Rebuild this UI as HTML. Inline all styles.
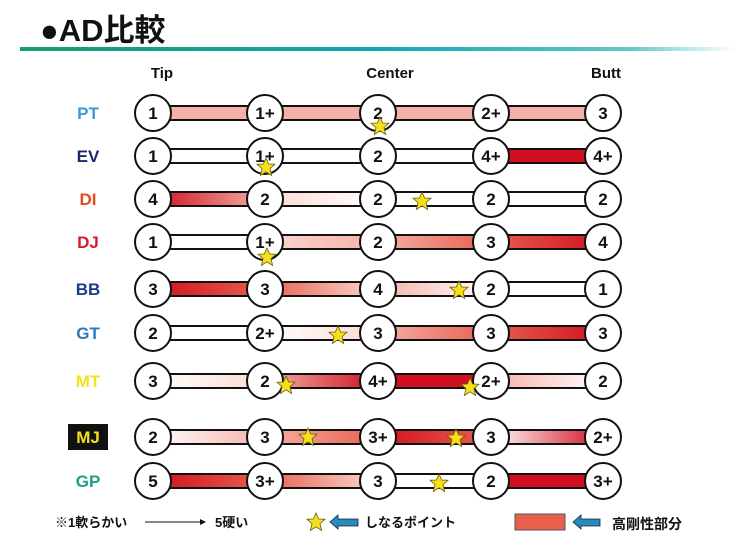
<!DOCTYPE html>
<html><head><meta charset="utf-8"><style>
body{margin:0;background:#fff;}
svg text{font-family:"Liberation Sans","Noto Sans CJK JP",sans-serif;font-weight:bold;}
</style></head><body>
<svg width="750" height="550" viewBox="0 0 750 550" xmlns="http://www.w3.org/2000/svg">
<defs>
<linearGradient id="tl" x1="0" x2="1"><stop offset="0" stop-color="#1a9a70"/><stop offset="0.5" stop-color="#10a8b0"/><stop offset="0.85" stop-color="#60c8c8"/><stop offset="1" stop-color="#ffffff"/></linearGradient>
<symbol id="st" viewBox="-10 -10 20 20"><polygon points="0,-9 2.6,-3 9,-2.8 4,1.6 5.6,8.5 0,4.8 -5.6,8.5 -4,1.6 -9,-2.8 -2.6,-3" fill="#f6e01a" stroke="#6a5a10" stroke-width="0.8"/></symbol>
</defs>
<text x="40" y="41" font-size="31" fill="#111">●AD比較</text>
<rect x="20" y="47" width="715" height="4" fill="url(#tl)"/>
<text x="162" y="78" font-size="15" text-anchor="middle" fill="#111">Tip</text>
<text x="390" y="78" font-size="15" text-anchor="middle" fill="#111">Center</text>
<text x="606" y="78" font-size="15" text-anchor="middle" fill="#111">Butt</text>
<g id="rows"></g>
<text x="55" y="527" font-size="13" fill="#111">※1軟らかい</text>
<line x1="145" y1="522" x2="200" y2="522" stroke="#111" stroke-width="1"/>
<polygon points="200,519 206,522 200,525" fill="#111"/>
<text x="215" y="527" font-size="13" fill="#111">5硬い</text>
<use href="#st" x="306" y="512" width="20" height="20"/>
<polygon points="330,522 338,515 338,519 358,519 358,526 338,526 338,529" fill="#2a8ac0" stroke="#123" stroke-width="0.8"/>
<text x="365" y="527" font-size="13" fill="#111">しなるポイント</text>
<rect x="515" y="514" width="50" height="16" fill="#e8604c" stroke="#555" stroke-width="1"/>
<polygon points="573,522 581,515 581,519 600,519 600,526 581,526 581,529" fill="#2a8ac0" stroke="#123" stroke-width="0.8"/>
<text x="612" y="529" font-size="14" fill="#111">高剛性部分</text>
</svg>
<script>
var X=[153,265,378,491,603];
var R='#d01020',M='#e86050',P='#f5b0a8',L='#fbd8d0',W='#ffffff';
var rows=[
['PT','#3a9ad9',113,['1','1+','2','2+','3'],[[P,P],[P,P],[P,P],[P,P]],[[380,126]]],
['EV','#1a2a6c',156,['1','1+','2','4+','4+'],[[W,W],[W,W],[W,W],[R,R]],[[266,167]]],
['DI','#e84a1a',199,['4','2','2','2','2'],[[R,P],[L,W],[W,W],[W,W]],[[422,201]]],
['DJ','#d81a2a',242,['1','1+','2','3','4'],[[W,W],[L,P],[P,M],[M,R]],[[267,257]]],
['BB','#1a3a8c',289,['3','3','4','2','1'],[[R,M],[M,L],[P,W],[W,W]],[[459,290]]],
['GT','#2a7ac0',333,['2','2+','3','3','3'],[[W,W],[W,L],[P,M],[M,R]],[[338,335]]],
['MT','#f5e020',381,['3','2','4+','2+','2'],[[W,L],[P,R],[R,R],[P,W]],[[286,385],[470,387]]],
['MJ','#f5e020',437,['2','3','3+','3','2+'],[[W,P],[P,M],[R,M],[W,R]],[[308,437],[456,438]]],
['GP','#20a080',481,['5','3+','3','2','3+'],[[R,M],[M,L],[W,W],[R,R]],[[439,483]]]
];
var s='',d='';
rows.forEach(function(r,i){
 var y=r[2];
 if(r[0]=='MJ'){s+='<rect x="68" y="'+(y-13)+'" width="40" height="26" fill="#111"/>';}
 s+='<text x="88" y="'+(y+6)+'" font-size="17" text-anchor="middle" fill="'+r[1]+'">'+r[0]+'</text>';
 for(var k=0;k<4;k++){
  var id='g'+i+'_'+k;
  d+='<linearGradient id="'+id+'" x1="0" x2="1"><stop offset="0" stop-color="'+r[4][k][0]+'"/><stop offset="1" stop-color="'+r[4][k][1]+'"/></linearGradient>';
  s+='<rect x="'+X[k]+'" y="'+(y-7)+'" width="'+(X[k+1]-X[k])+'" height="14" fill="url(#'+id+')" stroke="#111" stroke-width="2"/>';
 }
 for(var k=0;k<5;k++){
  s+='<circle cx="'+X[k]+'" cy="'+y+'" r="18" fill="#fff" stroke="#111" stroke-width="2"/>';
  s+='<text x="'+X[k]+'" y="'+(y+6)+'" font-size="17" text-anchor="middle" fill="#111">'+r[3][k]+'</text>';
 }
 r[5].forEach(function(p){s+='<use href="#st" x="'+(p[0]-10)+'" y="'+(p[1]-10)+'" width="20" height="20"/>';});
});
document.querySelector('defs').insertAdjacentHTML('beforeend',d);
document.getElementById('rows').outerHTML='<g>'+s+'</g>';
</script>
</body></html>
